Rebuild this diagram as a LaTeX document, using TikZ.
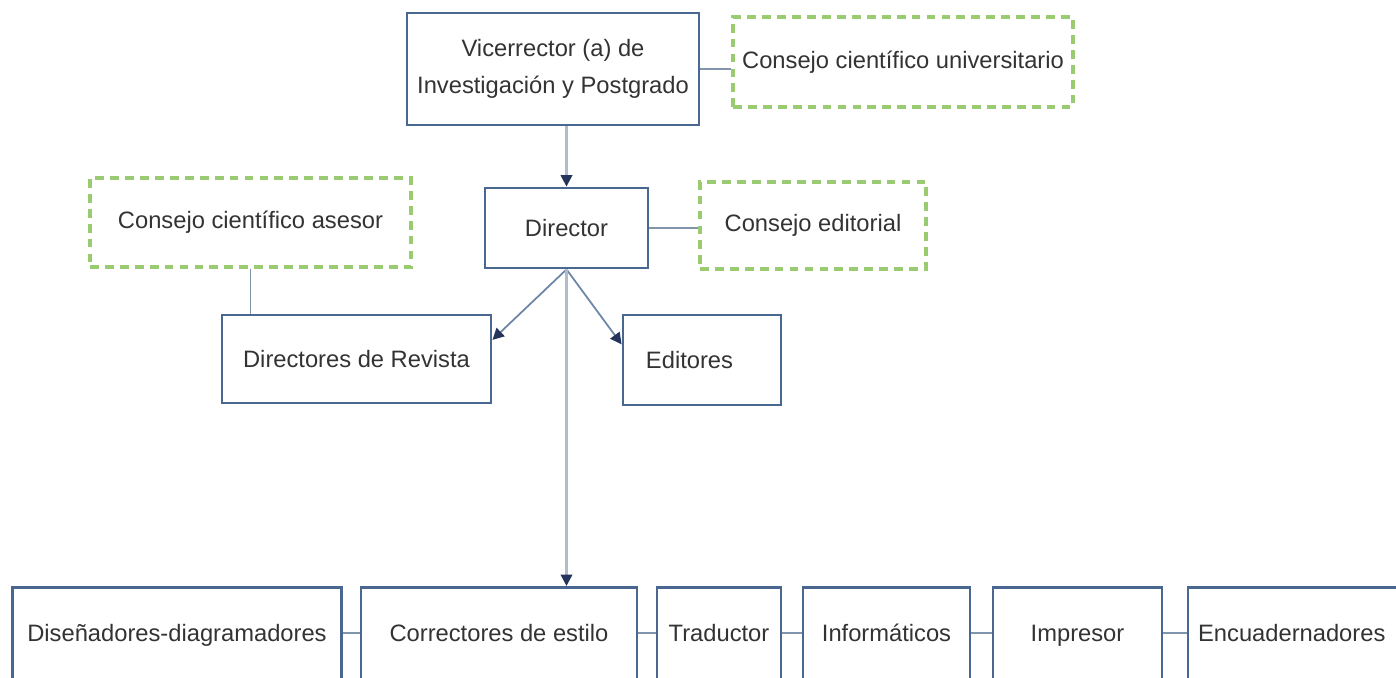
\documentclass[tikz,border=0pt]{standalone}
\usepackage{fontspec}
\setmainfont{Liberation Sans}
\usetikzlibrary{positioning, arrows.meta}
\definecolor{boxblue}{RGB}{72,104,146}
\definecolor{dashgreen}{RGB}{155,203,112}
\definecolor{linegray}{RGB}{128,148,172}
\definecolor{lightline}{RGB}{176,188,204}
\definecolor{tipnavy}{RGB}{38,52,92}

\begin{document}
\begin{tikzpicture}[
    box/.style={draw=boxblue, line width=1.6pt, fill=white, text=black!80, align=center, inner sep=0pt, font=\fontsize{13.5}{21}\selectfont},
    council/.style={draw=dashgreen, line width=1.9pt, dash pattern=on 5pt off 3.5pt, text=black!80, align=center, inner sep=0pt, font=\fontsize{13.5}{21}\selectfont},
    crew/.style={box, anchor=north, text height=1.08cm, text depth=1.1cm},
    link/.style={draw=linegray, line width=1pt},
    down/.style={draw=lightline, line width=1.3pt, -{Triangle[length=6.5pt, width=6.5pt, color=tipnavy]}},
    side/.style={draw=boxblue!80, line width=1pt, -{Triangle[length=6.5pt, width=6.5pt, color=tipnavy]}}
]
\useasboundingbox (0,0) rectangle (27.92,-13.54);

\node[box, minimum width=5.84cm, minimum height=2.24cm] (V) at (11.06,-1.38) {Vicerrector (a) de\\Investigación y Postgrado};
\node[council, minimum width=6.8cm, minimum height=1.8cm] (CU) at (18.06,-1.24) {Consejo científico universitario};
\node[box, minimum width=3.26cm, minimum height=1.6cm] (D) at (11.33,-4.56) {Director};
\node[council, minimum width=4.52cm, minimum height=1.74cm] (CE) at (16.26,-4.51) {Consejo editorial};
\node[council, minimum width=6.42cm, minimum height=1.78cm] (CA) at (5.01,-4.45) {Consejo científico asesor};
\node[box, minimum width=5.38cm, minimum height=1.76cm] (DR) at (7.13,-7.18) {Directores de Revista};
\node[box, minimum width=3.16cm, minimum height=1.8cm] (E) at (14.04,-7.2) {Editores\hspace{0.5cm}};

\node[crew, minimum width=6.58cm] (B1) at (3.54,-11.72) {Diseñadores-diagramadores};
\node[crew, minimum width=5.52cm] (B2) at (9.98,-11.72) {Correctores de estilo};
\node[crew, minimum width=2.48cm] (B3) at (14.38,-11.72) {Traductor};
\node[crew, minimum width=3.34cm] (B4) at (17.73,-11.72) {Informáticos};
\node[crew, minimum width=3.38cm] (B5) at (21.55,-11.72) {Impresor};
\node[crew, minimum width=4.5cm] (B6) at (26.01,-11.72) {Encuadernadores\hspace{0.35cm}};

\draw[link] (V.east) -- (V.east -| CU.west);
\draw[down] (V.south -| D.north) -- (D.north);
\draw[link] (D.east) -- (D.east -| CE.west);
\draw[link] (CA.south) -- (CA.south |- DR.north);
\draw[side] (D.south) -- (DR.8);
\draw[side] (D.south) -- (E.169);
\draw[down] (D.south) -- (D.south |- B2.north);
\draw[link] ([yshift=0.17cm]B1.base east) -- ([yshift=0.17cm]B2.base west);
\draw[link] ([yshift=0.17cm]B2.base east) -- ([yshift=0.17cm]B3.base west);
\draw[link] ([yshift=0.17cm]B3.base east) -- ([yshift=0.17cm]B4.base west);
\draw[link] ([yshift=0.17cm]B4.base east) -- ([yshift=0.17cm]B5.base west);
\draw[link] ([yshift=0.17cm]B5.base east) -- ([yshift=0.17cm]B6.base west);
\end{tikzpicture}
\end{document}
